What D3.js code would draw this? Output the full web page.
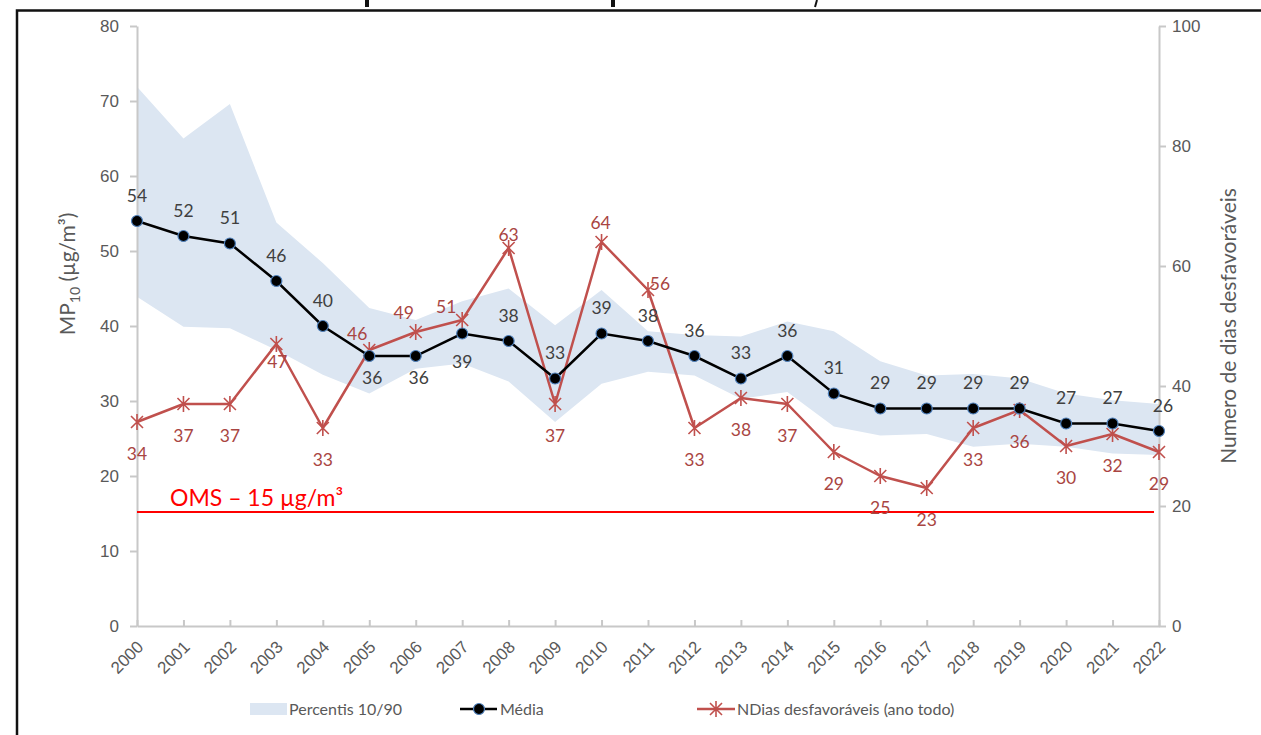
<!DOCTYPE html>
<html>
<head>
<meta charset="utf-8">
<script src="https://cdn.jsdelivr.net/npm/d3@7"></script>
<style>
  body { margin: 0; background: #fff; }
  svg { display: block; font-family: Lato, "Open Sans", sans-serif; }
  .tick text { fill: #595959; font-size: 17px; }
  .labels-media { fill: #404040; font-size: 17.5px; text-anchor: middle; dominant-baseline: central; }
  .labels-ndias { fill: #A94542; font-size: 17.5px; text-anchor: middle; dominant-baseline: central; }
  .legend-text { fill: #595959; font-size: 16px; }
</style>
</head>
<body>
<div id="wrapper"></div>
<script>
// data
const years = ['2000', '2001', '2002', '2003', '2004', '2005', '2006', '2007', '2008', '2009', '2010',
  '2011', '2012', '2013', '2014', '2015', '2016', '2017', '2018', '2019', '2020', '2021', '2022'];
const media = [54, 52, 51, 46, 40, 36, 36, 39, 38, 33, 39, 38, 36, 33, 36, 31, 29, 29, 29, 29, 27, 27, 26];
const ndias = [34, 37, 37, 47, 33, 46, 49, 51, 63, 37, 64, 56, 33, 38, 37, 29, 25, 23, 33, 36, 30, 32, 29];
const p90 = [71.9, 65.0, 69.6, 53.8, 48.4, 42.4, 40.8, 43.3, 45.0, 40.1, 44.8, 39.3, 38.8,
  38.6, 40.6, 39.3, 35.3, 33.4, 33.6, 33.0, 31.0, 30.1, 29.6];
const p10 = [43.9, 39.9, 39.7, 36.8, 33.5, 31.0, 34.3, 35.0, 32.6, 27.2, 32.3, 33.9, 33.4,
  30.3, 31.2, 26.6, 25.4, 25.6, 23.9, 24.3, 23.9, 23.0, 22.8];
const omsLimit = 15;
const leftTicks = [0, 10, 20, 30, 40, 50, 60, 70, 80];
const rightTicks = [0, 20, 40, 60, 80, 100];

// label placement (offsets from the point)
const mediaLabelOffset = years.map((y, i) => {
  if (i == 5 || i == 6) return [3, 21];
  if (i == 7) return [0, 28];
  if (i == 22) return [4, -26];
  return [0, -26];
});
const ndiasLabelOffset = years.map((y, i) => {
  if (i == 3) return [1, 17];
  if (i == 5) return [-12, -17];
  if (i == 6) return [-12, -20];
  if (i == 7) return [-16, -14];
  if (i == 8) return [0, -14];
  if (i == 10) return [-1, -20];
  if (i == 11) return [12, -7];
  return [0, 31];
});

async function drawChart() {
  const dataset = years.map((d, i) => ({
    year: d, media: media[i], ndias: ndias[i], lo: p10[i], hi: p90[i],
  }));
  const xAccessor = d => d.year;

  let dimensions = {
    width: 1261,
    height: 735,
    margin: { top: 26, right: 102, bottom: 109, left: 137 },
  };
  dimensions.boundedWidth = dimensions.width - dimensions.margin.left - dimensions.margin.right;
  dimensions.boundedHeight = dimensions.height - dimensions.margin.top - dimensions.margin.bottom;

  const wrapper = d3.select('#wrapper')
    .append('svg')
    .attr('width', dimensions.width)
    .attr('height', dimensions.height);

  wrapper.append('rect')
    .attr('width', dimensions.width)
    .attr('height', dimensions.height)
    .attr('fill', '#fff');

  // page frame + bits of the cropped title
  wrapper.append('path')
    .attr('d', `M17,${dimensions.height} V10.5 H${dimensions.width}`)
    .attr('fill', 'none')
    .attr('stroke', '#111')
    .attr('stroke-width', 2.5);
  wrapper.append('g')
    .selectAll('rect')
    .data([365, 611])
    .enter()
    .append('rect')
    .attr('x', d => d).attr('y', 0)
    .attr('width', 4).attr('height', 7)
    .attr('fill', '#111');
  wrapper.append('path')
    .attr('d', 'M817,0 L815,7')
    .attr('stroke', '#111').attr('stroke-width', 2);

  const bounds = wrapper.append('g')
    .style('transform', `translate(${dimensions.margin.left}px, ${dimensions.margin.top}px)`);

  // scales
  const xScale = d3.scalePoint()
    .domain(years)
    .range([0, dimensions.boundedWidth]);
  const yScale = d3.scaleLinear()
    .domain([0, 80])
    .range([dimensions.boundedHeight, 0]);
  const y2Scale = d3.scaleLinear()
    .domain([0, 100])
    .range([dimensions.boundedHeight, 0]);

  // band
  const area = d3.area()
    .x(d => xScale(xAccessor(d)))
    .y0(d => yScale(d.lo))
    .y1(d => yScale(d.hi));
  bounds.append('path')
    .datum(dataset)
    .attr('d', area)
    .attr('fill', '#DCE6F2');

  // axes
  const xAxis = bounds.append('g')
    .attr('class', 'xAxis')
    .style('transform', `translateY(${dimensions.boundedHeight}px)`)
    .call(d3.axisBottom(xScale).tickSizeInner(-6).tickSizeOuter(0).tickFormat(''));
  xAxis.selectAll('path, line').attr('stroke', '#C8C8C8').attr('stroke-width', 2);
  xAxis.selectAll('.tick')
    .append('text')
    .attr('transform', 'translate(7,22) rotate(-45)')
    .attr('text-anchor', 'end')
    .attr('fill', '#595959')
    .style('font-size', '17px')
    .text(d => d);

  const yAxis = bounds.append('g')
    .attr('class', 'yAxis')
    .call(d3.axisLeft(yScale).tickValues(leftTicks).tickSizeInner(7).tickSizeOuter(0).tickPadding(11));
  yAxis.selectAll('path, line').attr('stroke', '#C8C8C8').attr('stroke-width', 2);

  const y2Axis = bounds.append('g')
    .attr('class', 'y2Axis')
    .style('transform', `translateX(${dimensions.boundedWidth}px)`)
    .call(d3.axisRight(y2Scale).tickValues(rightTicks).tickSizeInner(7).tickSizeOuter(0).tickPadding(6));
  y2Axis.selectAll('path, line').attr('stroke', '#C8C8C8').attr('stroke-width', 2);

  // axis titles
  const yLabel = wrapper.append('text')
    .attr('transform', `translate(75,${dimensions.margin.top + 248}) rotate(-90)`)
    .attr('text-anchor', 'middle')
    .attr('fill', '#595959')
    .style('font-size', '21px');
  yLabel.append('tspan').text('MP');
  yLabel.append('tspan').attr('dy', 5).style('font-size', '14px').text('10');
  yLabel.append('tspan').attr('dy', -5).text(' (µg/m³)');

  wrapper.append('text')
    .attr('transform', `translate(1236,${dimensions.margin.top + 300}) rotate(-90)`)
    .attr('text-anchor', 'middle')
    .attr('fill', '#595959')
    .style('font-size', '21px')
    .text('Numero de dias desfavoráveis');

  // OMS line
  bounds.append('line')
    .attr('x1', 0)
    .attr('x2', dimensions.boundedWidth - 5)
    .attr('y1', yScale(omsLimit) - 1.5)
    .attr('y2', yScale(omsLimit) - 1.5)
    .attr('stroke', '#FF0000')
    .attr('stroke-width', 2);
  bounds.append('text')
    .attr('x', 33)
    .attr('y', yScale(omsLimit) - 8)
    .attr('fill', '#FF0000')
    .style('font-size', '23px')
    .text('OMS – 15 µg/m³');

  // NDias series (right axis)
  const ndiasLine = d3.line()
    .x(d => xScale(xAccessor(d)))
    .y(d => y2Scale(d.ndias));
  bounds.append('path')
    .datum(dataset)
    .attr('d', ndiasLine)
    .attr('fill', 'none')
    .attr('stroke', '#C0504D')
    .attr('stroke-width', 2.5)
    .attr('stroke-linejoin', 'round');

  const star = 'M-6,-6 L6,6 M-6,6 L6,-6 M0,-8 L0,8';
  bounds.selectAll('.star')
    .data(dataset)
    .enter()
    .append('path')
    .attr('class', 'star')
    .attr('transform', d => `translate(${xScale(xAccessor(d))},${y2Scale(d.ndias)})`)
    .attr('d', star)
    .attr('stroke', '#C0504D')
    .attr('stroke-width', 1.6);

  // Média series (left axis)
  const mediaLine = d3.line()
    .x(d => xScale(xAccessor(d)))
    .y(d => yScale(d.media));
  bounds.append('path')
    .datum(dataset)
    .attr('d', mediaLine)
    .attr('fill', 'none')
    .attr('stroke', '#000')
    .attr('stroke-width', 2.5);

  bounds.selectAll('.dot')
    .data(dataset)
    .enter()
    .append('circle')
    .attr('class', 'dot')
    .attr('cx', d => xScale(xAccessor(d)))
    .attr('cy', d => yScale(d.media))
    .attr('r', 5.5)
    .attr('fill', '#000')
    .attr('stroke', '#4F81BD')
    .attr('stroke-width', 1.2);

  // labels
  bounds.selectAll('.labels-media')
    .data(dataset)
    .enter()
    .append('text')
    .attr('class', 'labels-media')
    .attr('x', (d, i) => xScale(xAccessor(d)) + mediaLabelOffset[i][0])
    .attr('y', (d, i) => yScale(d.media) + mediaLabelOffset[i][1])
    .text(d => d.media);

  bounds.selectAll('.labels-ndias')
    .data(dataset)
    .enter()
    .append('text')
    .attr('class', 'labels-ndias')
    .attr('x', (d, i) => xScale(xAccessor(d)) + ndiasLabelOffset[i][0])
    .attr('y', (d, i) => y2Scale(d.ndias) + ndiasLabelOffset[i][1])
    .text(d => d.ndias);

  // legend
  const legend = wrapper.append('g')
    .attr('transform', 'translate(0,709)');
  legend.append('rect')
    .attr('x', 250).attr('y', -6)
    .attr('width', 37).attr('height', 12)
    .attr('fill', '#DCE6F2');
  legend.append('text')
    .attr('class', 'legend-text')
    .attr('x', 289).attr('y', 6)
    .text('Percentis 10/90');

  legend.append('line')
    .attr('x1', 460).attr('x2', 497)
    .attr('stroke', '#000').attr('stroke-width', 2.5);
  legend.append('circle')
    .attr('cx', 479).attr('r', 5.5)
    .attr('fill', '#000').attr('stroke', '#4F81BD').attr('stroke-width', 1.2);
  legend.append('text')
    .attr('class', 'legend-text')
    .attr('x', 500).attr('y', 6)
    .text('Média');

  legend.append('line')
    .attr('x1', 697).attr('x2', 735)
    .attr('stroke', '#C0504D').attr('stroke-width', 2.5);
  legend.append('path')
    .attr('transform', 'translate(716,0)')
    .attr('d', star)
    .attr('stroke', '#C0504D').attr('stroke-width', 1.6);
  legend.append('text')
    .attr('class', 'legend-text')
    .attr('x', 737).attr('y', 6)
    .text('NDias desfavoráveis (ano todo)');
}

drawChart();
</script>
</body>
</html>
